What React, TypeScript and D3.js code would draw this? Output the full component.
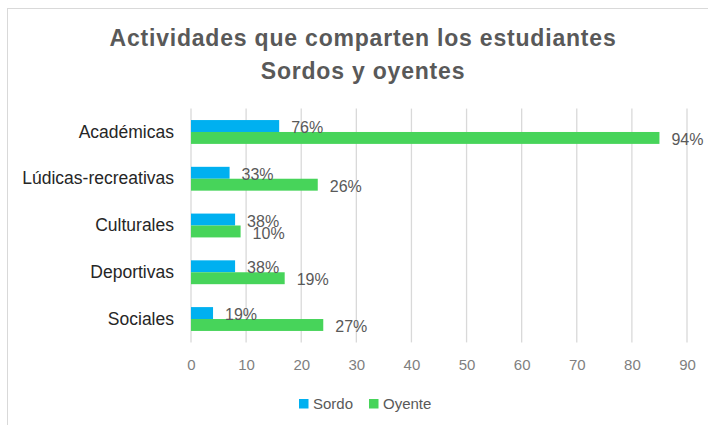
import * as d3 from 'd3';
import { useEffect, useRef } from 'react';

const categories = ['Académicas', 'Lúdicas-recreativas', 'Culturales', 'Deportivas', 'Sociales'];
const seriesNames = ['Sordo', 'Oyente'];
const sordoValues = [16, 7, 8, 8, 4];
const oyenteValues = [85, 23, 9, 17, 24];
const sordoLabels = ['76%', '33%', '38%', '38%', '19%'];
const oyenteLabels = ['94%', '26%', '10%', '19%', '27%'];
const xTicks = [0, 10, 20, 30, 40, 50, 60, 70, 80, 90];

const colors = ['#00b0f0', '#47d45a'];
const width = 708;
const height = 425;
const plot = { left: 191, right: 687, top: 108.6, bottom: 342.4 };
const font = '"Liberation Sans", Arial, sans-serif';

export default function App() {
  const ref = useRef<SVGSVGElement>(null);

  useEffect(() => {
    const svg = d3.select(ref.current);
    svg.selectAll('*').remove();

    svg
      .append('rect')
      .attr('x', 7.5)
      .attr('y', 8.5)
      .attr('width', width + 10)
      .attr('height', height + 10)
      .attr('fill', '#fff')
      .attr('stroke', '#d9d9d9');

    const title = svg
      .append('text')
      .attr('text-anchor', 'middle')
      .style('font-family', font)
      .style('font-weight', 'bold')
      .style('font-size', '23px')
      .style('letter-spacing', '0.8px')
      .attr('fill', '#595959');
    title.append('tspan').attr('x', 363).attr('y', 46).text('Actividades que comparten los estudiantes');
    title.append('tspan').attr('x', 363).attr('y', 79).text('Sordos y oyentes');

    const x = d3.scaleLinear().domain([0, 90]).range([plot.left, plot.right]);
    const y = d3.scaleBand().domain(categories).range([plot.top, plot.bottom]).paddingInner(0.49).paddingOuter(0.245);
    const inner = d3.scaleBand().domain(seriesNames).range([0, y.bandwidth()]);

    svg
      .append('g')
      .selectAll('line')
      .data(xTicks)
      .enter()
      .append('line')
      .attr('x1', (d) => x(d))
      .attr('x2', (d) => x(d))
      .attr('y1', plot.top)
      .attr('y2', plot.bottom)
      .attr('stroke', '#d9d9d9')
      .attr('stroke-width', 1.3);

    const rows = categories.map((c, i) => ({
      cat: c,
      vals: [
        { s: 'Sordo', v: sordoValues[i], label: sordoLabels[i] },
        { s: 'Oyente', v: oyenteValues[i], label: oyenteLabels[i] },
      ],
    }));

    const g = svg
      .append('g')
      .selectAll('g')
      .data(rows)
      .enter()
      .append('g')
      .attr('transform', (d) => `translate(0,${y(d.cat)})`);

    g.selectAll('rect')
      .data((d) => d.vals)
      .enter()
      .append('rect')
      .attr('x', x(0))
      .attr('y', (d) => inner(d.s)!)
      .attr('width', (d) => x(d.v) - x(0))
      .attr('height', inner.bandwidth())
      .attr('fill', (_d, i) => colors[i]);

    g.selectAll('text.lbl')
      .data((d) => d.vals)
      .enter()
      .append('text')
      .attr('class', 'lbl')
      .attr('x', (d) => x(d.v) + 12)
      .attr('y', (d) => inner(d.s)! + inner.bandwidth() / 2 + 1.5)
      .attr('dy', '0.35em')
      .style('font-family', font)
      .style('font-size', '16px')
      .attr('fill', '#595959')
      .text((d) => d.label);

    svg
      .append('g')
      .attr('transform', `translate(0,${plot.bottom})`)
      .call(d3.axisBottom(x).tickValues(xTicks).tickSize(0).tickPadding(17))
      .call((a) => a.select('.domain').remove())
      .call((a) =>
        a.selectAll('text').style('font-family', font).style('font-size', '15px').attr('fill', '#7f7f7f')
      );

    svg
      .append('g')
      .attr('transform', `translate(${plot.left - 17},0)`)
      .call(d3.axisLeft(y).tickSize(0).tickPadding(0))
      .call((a) => a.select('.domain').remove())
      .call((a) =>
        a.selectAll('text').style('font-family', font).style('font-size', '17.5px').attr('fill', '#262626')
      );

    const legend = svg
      .append('g')
      .selectAll('g')
      .data(seriesNames)
      .enter()
      .append('g')
      .attr('transform', (_d, i) => `translate(${[299, 369][i]},399)`);
    legend.append('rect').attr('width', 9.5).attr('height', 9.5).attr('fill', (_d, i) => colors[i]);
    legend
      .append('text')
      .attr('x', 14)
      .attr('y', 9.5)
      .style('font-family', font)
      .style('font-size', '15px')
      .attr('fill', '#595959')
      .text((d) => d);
  }, []);

  return (
    <svg
      ref={ref}
      width={width}
      height={height}
      style={{ position: 'absolute', left: 0, top: 0, background: '#fff' }}
    />
  );
}
